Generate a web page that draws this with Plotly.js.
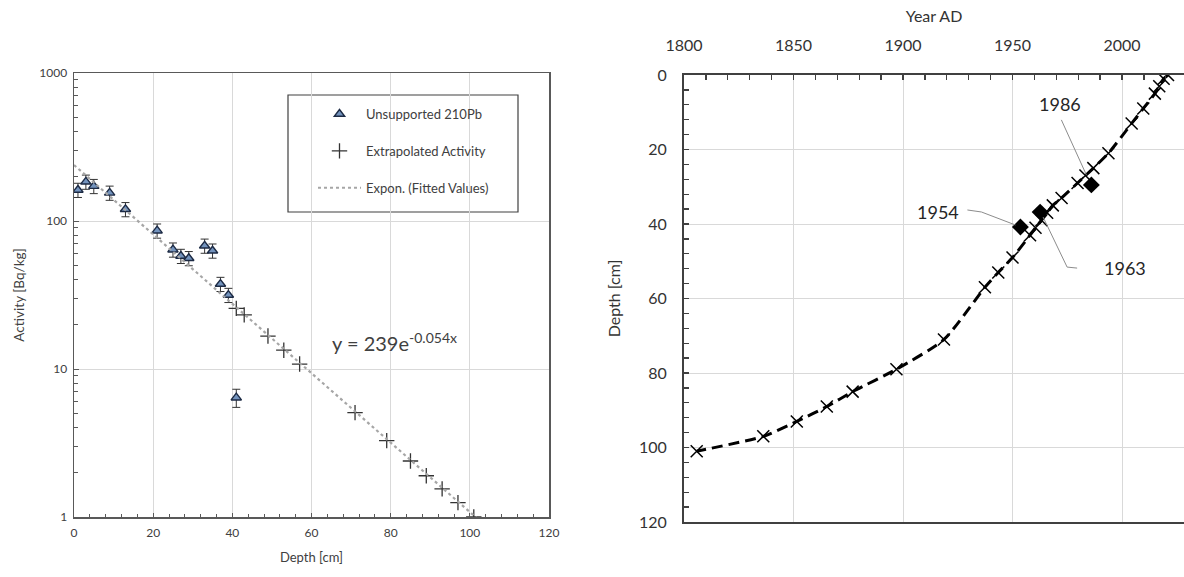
<!DOCTYPE html>
<html>
<head>
<meta charset="utf-8">
<script src="https://cdn.plot.ly/plotly-3.0.1.min.js"></script>
<style>
  html, body { margin: 0; padding: 0; background: #ffffff; }
  #chart { width: 1184px; height: 577px; }
</style>
</head>
<body>
<div id="chart"></div>
<script>
// ---- Left panel: 210Pb activity vs depth ----
const depthMeasured = [1, 3, 5, 9, 13, 21, 25, 27, 29, 33, 35, 37, 39, 41];
const activityMeasured = [162, 184, 172, 155, 120, 86, 64, 58, 56, 68, 63, 37.5, 31.6, 6.4];
const activityErrorPct = [11, 11, 11, 11, 11, 11, 11, 11, 11, 11, 11, 11, 11, 14];
const depthExtrapolated = [41, 43, 49, 53, 57, 71, 79, 85, 89, 93, 97, 101];
const activityExtrapolated = [25.7, 23.2, 16.7, 13.4, 10.8, 5.07, 3.28, 2.39, 1.9, 1.55, 1.25, 1.0];
const fitDepth = [0, 102];
const fitActivity = [239, 0.97];
const leftXTicks = [0, 20, 40, 60, 80, 100, 120];
const leftYTicks = [1, 10, 100, 1000];
const leftYTickText = ['1', '10', '100', '1000'];
const equationText = 'y = 239e<sup>-0.054x</sup>';

// ---- Right panel: age-depth model ----
const modelDepth = [0, 1, 3, 5, 9, 13, 21, 25, 27, 29, 33, 35, 37, 39, 41, 43, 49, 53, 57, 71, 79, 85, 89, 93, 97, 101];
const modelYear = [2021, 2019, 2017, 2015, 2009.7, 2004.4, 1993.8, 1986.9, 1983.3, 1979.7, 1972.4, 1968.4, 1965.8, 1963.2, 1960.5, 1958, 1950, 1943.5, 1937.4, 1918.7, 1897, 1877, 1865.2, 1851.5, 1836.2, 1805.8];
const markerLabels = ['1954', '1963', '1986'];
const markerYear = [1953.6, 1962.6, 1986.0];
const markerDepth = [40.8, 36.8, 29.5];
const rightXTicks = [1800, 1850, 1900, 1950, 2000];
const rightYTicks = [0, 20, 40, 60, 80, 100, 120];

const FONT = 'Lato, "Open Sans", "DejaVu Sans", sans-serif';
const W = 1184, H = 577;

const traces = [
  {
    x: depthMeasured, y: activityMeasured, xaxis: 'x', yaxis: 'y',
    type: 'scatter', mode: 'markers', name: 'Unsupported 210Pb',
    legendgroup: 'a',
    marker: { symbol: 'triangle-up', size: 9, color: '#7393bd', line: { color: '#1c2a44', width: 1.4 } },
    error_y: { type: 'data', array: activityMeasured.map((v, i) => v * activityErrorPct[i] / 100), color: '#333333', thickness: 1, width: 4 }
  },
  {
    x: depthExtrapolated, y: activityExtrapolated, xaxis: 'x', yaxis: 'y',
    type: 'scatter', mode: 'markers', name: 'Extrapolated Activity',
    legendgroup: 'b',
    marker: { symbol: 'cross-thin', size: 11, color: '#333333', line: { color: '#333333', width: 1.3 } }
  },
  {
    x: fitDepth, y: fitActivity, xaxis: 'x', yaxis: 'y',
    type: 'scatter', mode: 'lines', name: 'Expon. (Fitted Values)',
    legendgroup: 'c',
    line: { color: '#a6a6a6', width: 2.2, dash: 'dot' }
  },
  {
    x: modelYear, y: modelDepth, xaxis: 'x2', yaxis: 'y2',
    type: 'scatter', mode: 'lines+markers', showlegend: false,
    line: { color: '#000000', width: 3, dash: '11px,6px', shape: 'spline', smoothing: 0.6 },
    marker: { symbol: 'x-thin', size: 12, color: '#000000', line: { color: '#000000', width: 1.5 } }
  },
  {
    x: markerYear, y: markerDepth, xaxis: 'x2', yaxis: 'y2',
    type: 'scatter', mode: 'markers', showlegend: false,
    marker: { symbol: 'diamond', size: 13, color: '#000000' }
  }
];

function leader(i, path) {
  return { type: 'path', xref: 'x2', yref: 'y2', xsizemode: 'pixel', ysizemode: 'pixel',
    xanchor: markerYear[i], yanchor: markerDepth[i], path: path,
    line: { color: '#8c8c8c', width: 1 }, layer: 'above' };
}

const layout = {
  width: W, height: H,
  margin: { l: 0, r: 0, t: 0, b: 0 },
  paper_bgcolor: '#ffffff', plot_bgcolor: '#ffffff',
  font: { family: FONT, color: '#404040' },
  showlegend: true,
  legend: {
    x: 313 / W, y: 1 - 99 / H, xanchor: 'left', yanchor: 'top',
    bgcolor: 'rgba(0,0,0,0)', borderwidth: 0,
    font: { family: FONT, size: 13, color: '#404040' },
    itemwidth: 43, tracegroupgap: 17, traceorder: 'grouped'
  },
  xaxis: {
    domain: [74 / W, 549 / W], anchor: 'y',
    range: [0, 120], tickvals: leftXTicks,
    showgrid: true, gridcolor: '#d9d9d9', gridwidth: 1,
    showline: true, linecolor: '#595959', linewidth: 1.5, mirror: true,
    ticks: 'inside', ticklen: 4, tickcolor: '#595959',
    minor: { dtick: 4, ticks: 'inside', ticklen: 3, tickcolor: '#595959', showgrid: false },
    tickfont: { size: 12, color: '#404040' }, ticklabelstandoff: 4,
    title: { text: 'Depth [cm]', font: { size: 13, color: '#404040' }, standoff: 14 },
    zeroline: false
  },
  yaxis: {
    domain: [1 - 517 / H, 1 - 73 / H], anchor: 'x',
    type: 'log', range: [0, 3],
    tickvals: leftYTicks, ticktext: leftYTickText,
    showgrid: true, gridcolor: '#d9d9d9', gridwidth: 1,
    showline: true, linecolor: '#595959', linewidth: 1.5, mirror: true,
    ticks: 'inside', ticklen: 5, tickcolor: '#595959',
    minor: { dtick: 'D1', ticks: 'inside', ticklen: 4, tickcolor: '#595959', showgrid: false },
    tickfont: { size: 12, color: '#404040' }, ticklabelstandoff: 3,
    title: { text: 'Activity [Bq/kg]', font: { size: 13.5, color: '#404040' }, standoff: 11 },
    zeroline: false
  },
  xaxis2: {
    domain: [684 / W, 1], anchor: 'y2', side: 'top',
    range: [1800, 2028.3], tickvals: rightXTicks,
    showgrid: true, gridcolor: '#d9d9d9', gridwidth: 1,
    showline: true, linecolor: '#404040', linewidth: 2, mirror: true,
    ticks: 'inside', ticklen: 5, tickcolor: '#404040', tickwidth: 1.3,
    minor: { dtick: 10, ticks: 'inside', ticklen: 5, tickcolor: '#404040', tickwidth: 1.3, showgrid: false },
    tickfont: { size: 16, color: '#333333' }, ticklabelstandoff: 16,
    title: { text: 'Year AD', font: { size: 16, color: '#333333' }, standoff: 8 },
    zeroline: false
  },
  yaxis2: {
    domain: [1 - 522 / H, 1 - 75 / H], anchor: 'x2',
    range: [120, 0], tickvals: rightYTicks,
    showgrid: true, gridcolor: '#d9d9d9', gridwidth: 1,
    showline: true, linecolor: '#404040', linewidth: 2, mirror: false,
    ticks: 'inside', ticklen: 5, tickcolor: '#404040', tickwidth: 1.3,
    minor: { dtick: 4, ticks: 'inside', ticklen: 5, tickcolor: '#404040', tickwidth: 1.3, showgrid: false },
    tickfont: { size: 16, color: '#333333' }, ticklabelstandoff: 12,
    title: { text: 'Depth [cm]', font: { size: 16, color: '#333333' }, standoff: 14 },
    zeroline: false
  },
  shapes: [
    { type: 'rect', xref: 'paper', yref: 'paper', x0: 288 / W, x1: 518 / W, y0: 1 - 212 / H, y1: 1 - 95 / H,
      line: { color: '#404040', width: 1.2 }, fillcolor: 'rgba(0,0,0,0)', layer: 'below' },
    leader(0, 'M-53,17 L-39,15 L-5,2'),
    leader(1, 'M3,-5 L27,-55 L37,-56'),
    leader(2, 'M-30,65 L-5,10')
  ],
  annotations: [
    { xref: 'x', yref: 'y', x: 81, y: Math.log10(15.3), text: equationText, showarrow: false,
      font: { family: FONT, size: 20, color: '#404040' } },
    { xref: 'x2', yref: 'y2', x: 1916.0, y: 36.8, text: markerLabels[0], showarrow: false,
      font: { family: FONT, size: 18, color: '#262626' } },
    { xref: 'x2', yref: 'y2', x: 2001.4, y: 51.8, text: markerLabels[1], showarrow: false,
      font: { family: FONT, size: 18, color: '#262626' } },
    { xref: 'x2', yref: 'y2', x: 1971.7, y: 7.8, text: markerLabels[2], showarrow: false,
      font: { family: FONT, size: 18, color: '#262626' } }
  ]
};

Plotly.newPlot('chart', traces, layout, { displayModeBar: false, staticPlot: true });
</script>
</body>
</html>
